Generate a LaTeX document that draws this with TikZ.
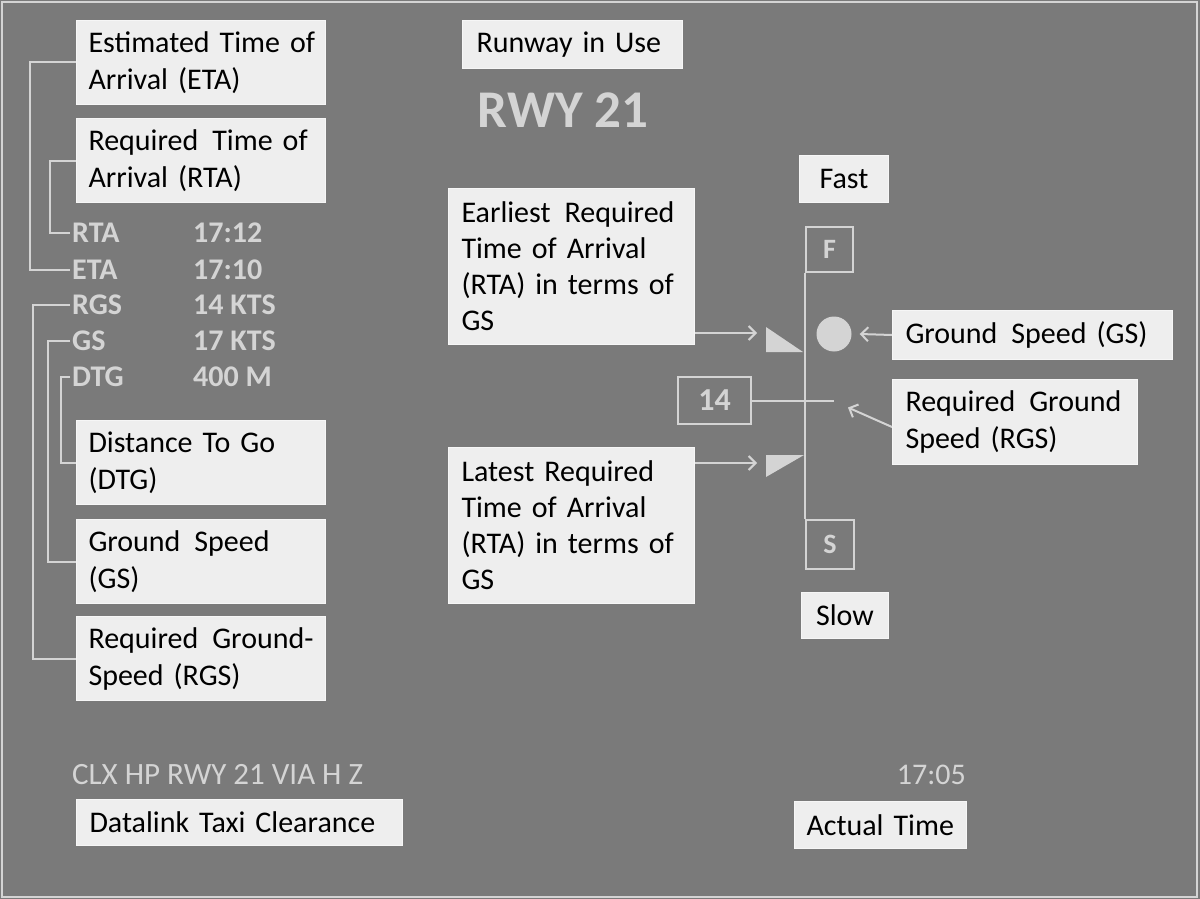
\documentclass[tikz,border=0pt]{standalone}
\usepackage{fontspec}
\setmainfont{Carlito}
\usetikzlibrary{arrows.meta,positioning}

\definecolor{screen}{HTML}{7A7A7A}
\definecolor{tagfill}{HTML}{EEEEEE}
\definecolor{tagline}{HTML}{F6F6F6}
\definecolor{glow}{HTML}{D4D4D4}

\newcommand{\gap}{\hspace{4pt} }

\tikzset{
  tag/.style={fill=tagfill, draw=tagline, line width=1pt, anchor=north west,
    align=left, inner xsep=10pt, inner ysep=0pt, text=black,
    font=\fontsize{30}{37}\selectfont},
  readout/.style={anchor=west, inner sep=2pt, text=glow,
    font=\bfseries\fontsize{30}{34}\selectfont},
  wire/.style={draw=glow, line width=2pt},
  pointer/.style={wire, -{Straight Barb[length=7pt,width=14pt]}},
  gaugebox/.style={draw=glow, line width=2pt, anchor=north west, inner sep=0pt,
    text=glow, font=\bfseries\fontsize{28}{34}\selectfont},
  wedge/.style={fill=glow},
  dot/.style={circle, fill=glow, minimum size=35pt, inner sep=0pt}
}

\begin{document}
\begin{tikzpicture}[x=1pt, y=-1pt]
  \useasboundingbox (0,0) rectangle (1200,899);
  \fill[screen] (0,0) rectangle (1200,899);
  \draw[glow, line width=2pt] (2,2) rectangle (1197,897);

  % left column: explanation boxes
  \node[tag, text width=229pt, minimum height=84pt] (etabox) at (76,20) {\hspace{2pt}Estimated Time of\\\hspace{2pt}Arrival (ETA)};
  \node[tag, text width=229pt, minimum height=84pt] (rtabox) at (76,118) {\hspace{2pt}Required\gap Time of\\\hspace{2pt}Arrival (RTA)};
  \node[tag, text width=229pt, minimum height=84pt] (dtgbox) at (76,420) {\hspace{2pt}Distance To Go\\\hspace{2pt}(DTG)};
  \node[tag, text width=229pt, minimum height=84pt] (gsbox) at (76,519) {\hspace{2pt}Ground\gap Speed\\\hspace{2pt}(GS)};
  \node[tag, text width=229pt, minimum height=84pt] (rgsbox) at (76,616) {\hspace{2pt}Required\gap Ground-\\\hspace{2pt}Speed (RGS)};

  % left column: readouts
  \node[readout] (rtaline) at (70,233) {RTA};
  \node[readout] (etaline) at (70,270) {ETA};
  \node[readout] (rgsline) at (70,305) {RGS};
  \node[readout] (gsline) at (70,341) {GS};
  \node[readout] (dtgline) at (70,377) {DTG};
  \node[readout] (rtaval) at (191,233) {17:12};
  \node[readout] (etaval) at (191,270) {17:10};
  \node[readout] (rgsval) at (191,305) {14 KTS};
  \node[readout] (gsval) at (191,341) {17 KTS};
  \node[readout] (dtgval) at (191,377) {400 M};

  \draw[wire] (etabox.west) -- ++(-46,0) |- (etaline.west);
  \draw[wire] (rtabox.west) -- ++(-26,0) |- (rtaline.west);
  \draw[wire] (rgsline.west) -- ++(-37,0) |- (rgsbox.west);
  \draw[wire] (gsline.west) -- ++(-22,0) |- (gsbox.west);
  \draw[wire] (dtgline.west) -- ++(-9,0) |- (dtgbox.west);

  % runway
  \node[tag, text width=200pt, minimum height=48pt] (rwyuse) at (462,20) {\hspace{4pt}Runway in Use};
  \node[text=glow, font=\bfseries\fontsize{53}{60}\selectfont] (rwy) at (563,110) {RWY 21};

  % speed gauge
  \node[tag, align=center, text width=69pt, minimum height=47pt] (fast) at (799,155) {Fast};
  \node[tag, align=center, text width=67pt, minimum height=46pt] (slow) at (801,592) {Slow};
  \node[gaugebox, minimum width=47pt, minimum height=45pt] (fbox) at (805,226) {F};
  \node[gaugebox, minimum width=48pt, minimum height=49pt] (sbox) at (805,519) {S};
  \draw[wire] (fbox.south west) -- (sbox.north west);

  \fill[wedge] (766,327) -- (766,352) -- (803,352) -- cycle;
  \fill[wedge] (766,455) -- (804,455) -- (766,477) -- cycle;
  \coordinate (earlytip) at (757,333);
  \coordinate (latetip) at (757,463);
  \node[dot] (gsdot) at (834,334) {};

  \node[gaugebox, minimum width=73pt, minimum height=47pt, font=\bfseries\fontsize{32}{36}\selectfont] (rgsnum) at (677,376) {14};
  \draw[wire] (rgsnum.east) -- ++(82,0) coordinate (rgstick);

  \node[tag, text width=226pt, minimum height=156pt, font=\fontsize{30}{36}\selectfont] (early) at (448,188) {\hspace{3pt}Earliest\gap Required\\\hspace{3pt}Time of Arrival\\\hspace{3pt}(RTA) in terms of\\\hspace{3pt}GS};
  \node[tag, text width=226pt, minimum height=156pt, font=\fontsize{30}{36}\selectfont] (late) at (448,447) {\hspace{3pt}Latest Required\\\hspace{3pt}Time of Arrival\\\hspace{3pt}(RTA) in terms of\\\hspace{3pt}GS};
  \node[tag, text width=260pt, minimum height=49pt] (gsright) at (892,310) {\hspace{3pt}Ground\gap Speed (GS)};
  \node[tag, text width=225pt, minimum height=85pt] (rgsright) at (892,379) {\hspace{3pt}Required\gap Ground\\\hspace{3pt}Speed (RGS)};

  \draw[pointer] (early.east |- earlytip) -- (earlytip);
  \draw[pointer] (late.east |- latetip) -- (latetip);
  \draw[pointer] (gsright.west) -- ([xshift=8pt]gsdot.east);
  \draw[pointer] ([yshift=-5pt]rgsright.west) -- ([xshift=14pt,yshift=-7pt]rgstick);

  % bottom line
  \node[readout, font=\fontsize{31}{36}\selectfont] (clx) at (70,775) {CLX HP RWY 21 VIA H Z};
  \node[readout, anchor=east, font=\fontsize{30}{36}\selectfont] (clock) at (968,775) {17:05};
  \node[tag, text width=306pt, minimum height=46pt] (datalink) at (76,799) {\hspace{3pt}Datalink Taxi Clearance};
  \node[tag, text width=152pt, minimum height=47pt] (actual) at (794,801) {\hspace{2pt}Actual Time};
\end{tikzpicture}
\end{document}
